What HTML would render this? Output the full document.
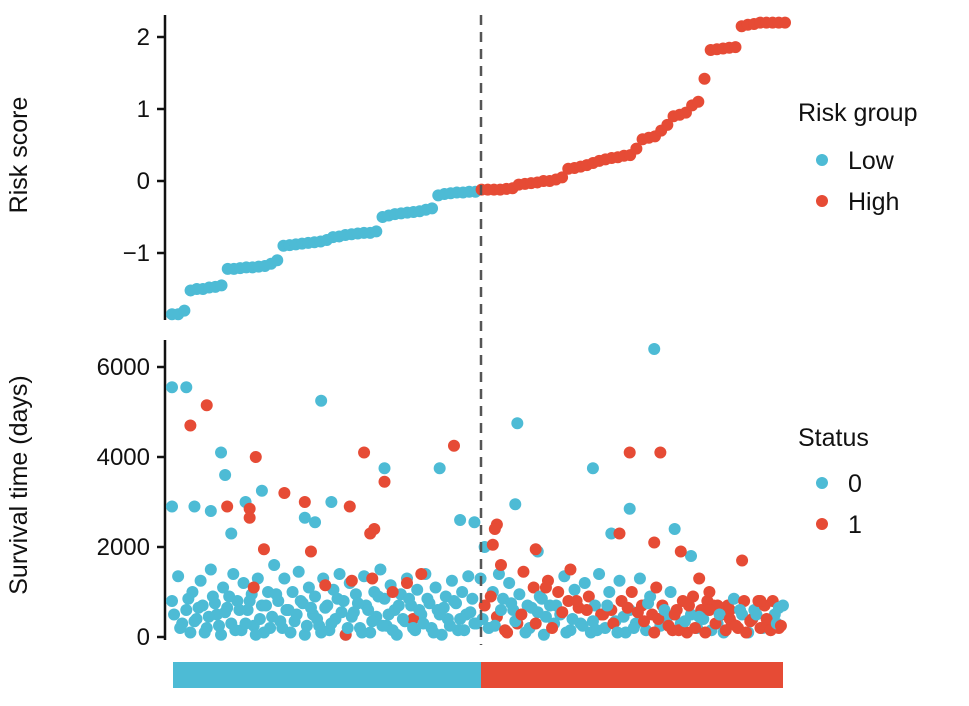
<!DOCTYPE html>
<html><head><meta charset="utf-8"><style>
html,body{margin:0;padding:0;background:#fff;}
svg{display:block;font-family:"Liberation Sans",sans-serif;}
</style></head><body>
<svg id="chart" width="969" height="706" viewBox="0 0 969 706">
<g id="topPanel"></g>
<g id="botPanel"></g>
<text x="27" y="155" transform="rotate(-90 27 155)" text-anchor="middle" font-size="25" fill="#111">Risk score</text>
<text x="27" y="485" transform="rotate(-90 27 485)" text-anchor="middle" font-size="25" fill="#111">Survival time (days)</text>
<g>
<text x="798" y="121" font-size="25" fill="#111">Risk group</text>
<circle cx="822" cy="160" r="6" fill="#4DBBD5"/>
<text x="848" y="169" font-size="25" fill="#111">Low</text>
<circle cx="822" cy="201" r="6" fill="#E64B35"/>
<text x="848" y="210" font-size="25" fill="#111">High</text>
</g>
<g>
<text x="798" y="446" font-size="25" fill="#111">Status</text>
<circle cx="822" cy="483" r="6" fill="#4DBBD5"/>
<text x="848" y="492" font-size="25" fill="#111">0</text>
<circle cx="822" cy="524" r="6" fill="#E64B35"/>
<text x="848" y="533" font-size="25" fill="#111">1</text>
</g>
<rect x="173" y="662" width="308" height="26" fill="#4DBBD5"/>
<rect x="481" y="662" width="302" height="26" fill="#E64B35"/>
</svg>
<script>
const riskScores=[-1.85,-1.85,-1.8,-1.52,-1.5,-1.5,-1.48,-1.47,-1.45,-1.22,-1.22,-1.21,-1.2,-1.2,-1.19,-1.18,-1.15,-1.1,-0.9,-0.89,-0.88,-0.87,-0.86,-0.85,-0.84,-0.82,-0.78,-0.77,-0.75,-0.74,-0.73,-0.72,-0.72,-0.7,-0.5,-0.48,-0.46,-0.45,-0.44,-0.43,-0.42,-0.4,-0.38,-0.2,-0.18,-0.17,-0.16,-0.16,-0.15,-0.15,
-0.12,-0.12,-0.12,-0.12,-0.11,-0.1,-0.05,-0.04,-0.03,-0.02,0,0,0.02,0.05,0.17,0.18,0.2,0.22,0.25,0.28,0.3,0.32,0.33,0.35,0.36,0.45,0.58,0.6,0.62,0.7,0.78,0.9,0.92,0.95,1.05,1.1,1.42,1.82,1.83,1.84,1.85,1.86,2.15,2.17,2.18,2.2,2.2,2.2,2.2,2.2];
const riskTicks=[2,1,0,-1];
const riskTickLabels=["2","1","0","\u22121"];
const survRank=[0,3,5,7,9,10,12,14,15,17,19,20,22,24,25,27,29,30,32,34,35,37,39,40,42,44,45,47,49,50,52,54,55,57,59,60,62,64,65,67,69,70,72,74,75,77,79,80,82,84,85,87,89,90,92,94,95,97,99,100,102,104,105,107,109,110,112,114,115,117,119,120,122,124,125,127,129,130,132,134,135,137,139,140,142,144,145,147,149,
40,75,88,98,115,85,118,108,122,
151,153,155,157,159,160,162,164,165,167,169,170,172,174,175,177,179,180,182,184,185,187,189,190,192,194,195,197,199,200,202,204,205,207,209,210,212,214,215,217,219,220,222,224,225,227,229,230,232,234,235,237,239,240,242,244,245,247,249,250,252,254,255,257,259,260,262,264,265,267,269,270,272,274,275,277,279,280,282,284,285,287,289,290,292,294,295,297,299,
0,7,73,0,11,19,24,26,44,36,65,70,78,104,131,141,148,169,168,206,224,236,246,215,254,179,153,29,
9,17,41,27,38,38,55,45,65,68,87,94,104,99,97,138,159,158,157,161,178,183,195,219,224,239,236,249,258,279,263,267,273,288,293,297,
1,4,8,11,13,16,18,21,23,26,28,31,33,36,38,41,43,46,48,51,53,56,58,61,63,66,68,71,73,76,78,81,83,86,88,91,93,96,98,101,103,106,108,111,113,116,118,121,123,126,128,131,133,136,138,141,143,146,148,
152,156,158,161,163,166,168,171,173,176,178,181,183,186,188,191,193,196,198,201,203,206,208,211,213,216,218,221,223,226,228,231,233,236,238,241,243,246,248,251,253,256,258,261,263,266,268,271,273,276,278,281,283,286,288,291,293,296,298];
const survDays=[800,1350,300,600,100,1000,400,1250,700,200,1500,900,500,50,1100,650,300,1400,800,150,1200,600,950,250,1300,700,100,1000,450,1600,800,200,1300,600,1000,350,1450,750,50,1100,500,900,250,1300,650,150,1050,400,1400,800,50,1200,550,950,200,1350,700,100,1000,450,1500,850,250,1150,600,50,950,350,1300,700,150,1050,500,1400,850,200,1100,600,50,900,400,1250,750,150,1000,500,1350,850,300,
1100,1150,1250,1300,1200,50,400,1000,1400,
1300,700,200,1000,450,1400,850,100,1200,600,300,950,1450,700,200,1100,550,900,50,1250,700,300,1000,500,1350,800,150,1050,650,300,1200,900,100,700,1400,500,200,1000,600,350,1250,800,100,600,1000,300,1300,700,150,900,500,1100,250,700,400,1000,150,600,300,800,100,500,900,200,600,400,800,150,700,300,500,100,700,300,850,200,500,800,100,400,600,800,200,700,300,800,500,650,700,
5550,5550,5250,2900,2900,2800,4100,3600,3250,3000,2650,2550,3000,3750,3750,2600,2550,4750,2950,3750,2850,6400,2400,2300,1800,1900,2000,2300,
4700,5150,4000,2900,2850,2650,3200,1950,3000,1900,2900,4100,3450,2400,2300,4250,2500,2400,2050,1600,1950,1100,1500,2300,4100,4100,2100,1900,1300,1700,1000,700,600,800,200,200,
500,200,850,350,650,100,450,750,250,550,900,150,600,300,800,50,400,700,200,950,350,600,100,500,800,250,650,400,100,700,300,850,550,200,450,750,100,600,350,900,250,500,150,700,400,850,200,600,300,750,100,500,650,250,800,400,150,550,300,
400,900,250,600,150,750,350,500,100,650,300,850,450,200,700,550,100,400,800,250,600,350,150,500,700,300,100,450,650,200,550,350,750,100,400,600,250,500,150,350,700,200,450,100,600,300,500,150,400,250,600,100,350,500,200,400,150,300,250];
const survStatus=[0,0,0,0,0,0,0,0,0,0,0,0,0,0,0,0,0,0,0,0,0,0,0,0,0,0,0,0,0,0,0,0,0,0,0,0,0,0,0,0,0,0,0,0,0,0,0,0,0,0,0,0,0,0,0,0,0,0,0,0,0,0,0,0,0,0,0,0,0,0,0,0,0,0,0,0,0,0,0,0,0,0,0,0,0,0,0,0,0,
1,1,1,1,1,1,1,1,1,
0,1,0,0,1,0,0,1,0,0,1,0,1,0,0,1,0,0,0,1,0,0,1,0,0,1,0,0,1,0,0,1,0,0,0,1,0,0,1,0,0,1,0,0,1,0,0,1,0,0,1,1,0,1,0,0,1,1,0,1,1,0,1,0,1,0,1,0,1,0,1,0,1,1,0,1,0,1,0,1,0,1,0,1,0,1,0,0,0,
0,0,0,0,0,0,0,0,0,0,0,0,0,0,0,0,0,0,0,0,0,0,0,0,0,0,0,0,
1,1,1,1,1,1,1,1,1,1,1,1,1,1,1,1,1,1,1,1,1,1,1,1,1,1,1,1,1,1,1,1,1,1,1,1,
0,0,0,0,0,0,0,0,0,0,0,0,0,0,0,0,0,0,0,0,0,0,0,0,0,0,0,0,0,0,0,0,0,0,0,0,0,0,0,0,0,0,0,0,0,0,0,0,0,0,0,0,0,0,0,0,0,0,0,
0,1,0,0,1,0,0,1,0,0,1,0,0,1,0,1,0,0,1,0,1,0,0,1,0,1,0,0,1,0,
1,1,0,1,1,0,1,1,1,0,1,1,0,1,1,1,0,1,1,1,0,1,1,0,1,1,1,0,1];
const survTicks=[0,2000,4000,6000];
const survTickLabels=["0","2000","4000","6000"];
const lowCount=50;
const nRank=300;

const NS="http://www.w3.org/2000/svg";
const BLUE="#4DBBD5",RED="#E64B35";
function mk(parent,tag,attrs){const e=document.createElementNS(NS,tag);for(const k in attrs)e.setAttribute(k,attrs[k]);parent.appendChild(e);return e;}
const xRisk=i=>172+i*(613/(riskScores.length-1));
const yRisk=v=>181-v*72;
const xSurv=r=>172+r*(613/nRank);
const ySurv=d=>637-d*0.045;

const topG=document.getElementById('topPanel');
const botG=document.getElementById('botPanel');
function axis(g,y1,y2,ticks,labels,yf,name){
  const l=mk(g,'line',{x1:165,x2:165,y1:y1,y2:y2,stroke:'#111','stroke-width':2.5});
  
  
  ticks.forEach((t,i)=>{
    const tk=mk(g,'line',{x1:157,x2:165,y1:yf(t),y2:yf(t),stroke:'#111','stroke-width':2.5});
    
    
    const tx=mk(g,'text',{x:150,y:yf(t)+8,'text-anchor':'end','font-size':24,fill:'#111'});
    tx.textContent=labels[i];
    
    
  });
}
axis(topG,15,320,riskTicks,riskTickLabels,yRisk,'risk-score');
axis(botG,340,640,survTicks,survTickLabels,ySurv,'survival');
riskScores.forEach((v,i)=>{
  const c=mk(topG,'circle',{cx:xRisk(i),cy:yRisk(v),r:6,fill:i<lowCount?BLUE:RED});
  
  
});
survRank.forEach((r,i)=>{
  const c=mk(botG,'circle',{cx:xSurv(r),cy:ySurv(survDays[i]),r:6,fill:survStatus[i]?RED:BLUE});
  
  
});
const svg=document.getElementById('chart');
const dl=mk(svg,'line',{x1:481,x2:481,y1:15,y2:645,stroke:'#555','stroke-width':2.5,'stroke-dasharray':'10,7'});


</script>
</body></html>
